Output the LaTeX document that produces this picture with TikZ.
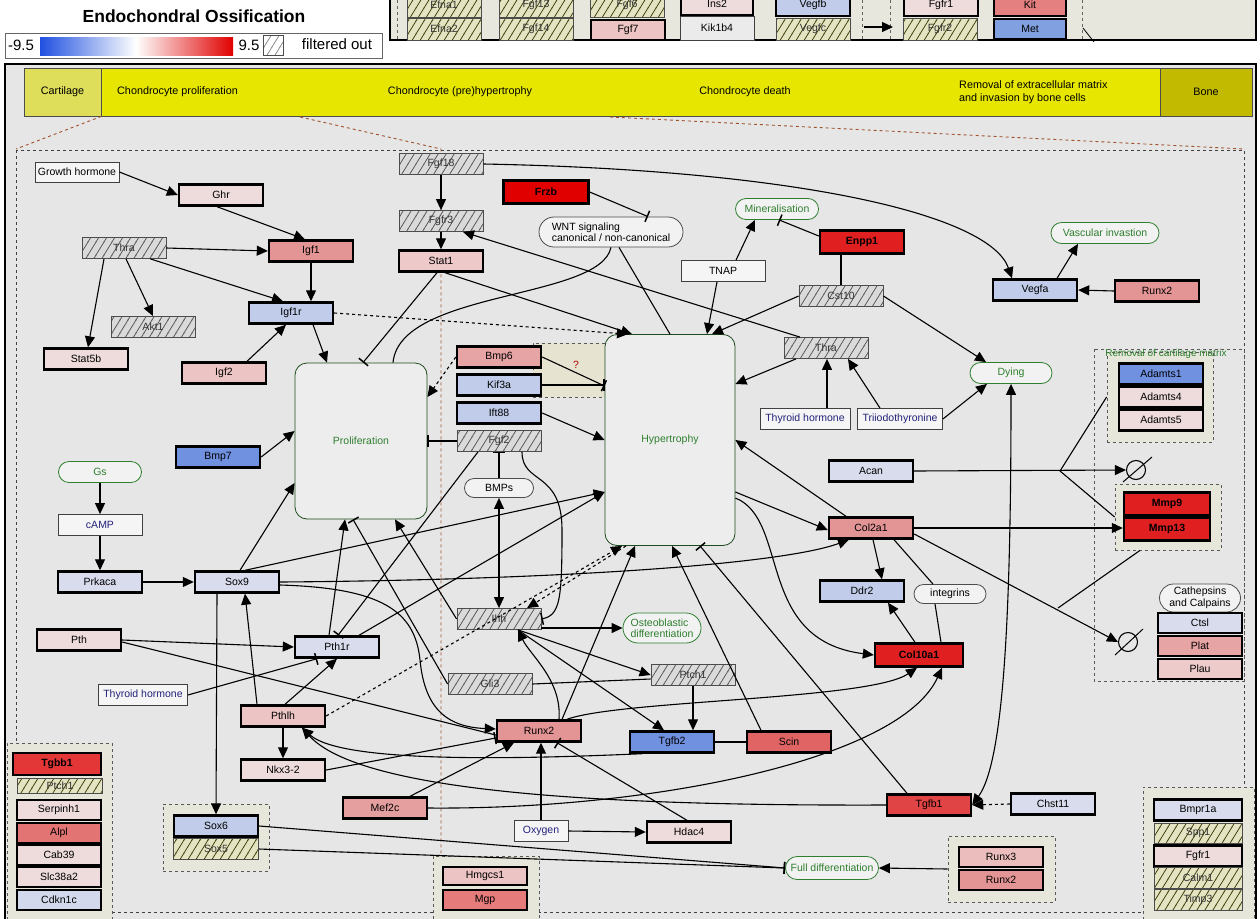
\documentclass[tikz,border=0pt]{standalone}
\usepackage{fontspec}
\setmainfont{Liberation Sans}
\usetikzlibrary{arrows.meta,patterns,shapes.misc,positioning}

\definecolor{panel}{HTML}{E6E6E6}
\definecolor{toppanel}{HTML}{E8E7DE}
\definecolor{band}{HTML}{E6E600}
\definecolor{cartfill}{HTML}{DEDE5A}
\definecolor{bonefill}{HTML}{C2BA00}
\definecolor{grpfill}{HTML}{E6E6DA}
\definecolor{qfill}{HTML}{E6E3D0}
\definecolor{hatchbg}{HTML}{DADADA}
\definecolor{yhatchbg}{HTML}{E4E4C2}
\definecolor{procgreen}{HTML}{2F7F2F}
\definecolor{metnavy}{HTML}{22227A}
\definecolor{cpale}{HTML}{EEDCDC}
\definecolor{cpink}{HTML}{EDC4C4}
\definecolor{cmed}{HTML}{E39494}
\definecolor{csalmon}{HTML}{E06464}
\definecolor{ctgf}{HTML}{E04444}
\definecolor{cred}{HTML}{E02020}
\definecolor{cbright}{HTML}{E00000}
\definecolor{cpblue}{HTML}{D8DCEC}
\definecolor{clblue}{HTML}{C0CCEA}
\definecolor{cblue}{HTML}{7090E0}
\definecolor{brownd}{HTML}{A0522D}

\pgfdeclarepatternformonly{hatchp}{\pgfqpoint{-1pt}{-1pt}}{\pgfqpoint{9pt}{14pt}}{\pgfqpoint{8pt}{13pt}}{%
  \pgfsetlinewidth{0.7pt}%
  \pgfpathmoveto{\pgfqpoint{-0.2pt}{-0.325pt}}%
  \pgfpathlineto{\pgfqpoint{8.2pt}{13.325pt}}%
  \pgfusepath{stroke}}

\begin{document}
\begin{tikzpicture}
		[x=1pt,y=-1pt,
		every node/.style={font=\fontsize{10.5}{11.5}\selectfont, inner sep=1pt},
		gene/.style={draw, line width=2.4pt, minimum width=84, minimum height=21},
		bold/.style={font=\fontsize{10.5}{11.5}\selectfont\bfseries},
		thin/.style={draw=black!75, line width=0.8pt, fill=black!4, minimum width=84, minimum height=21},
		hbox/.style={draw=black!70, line width=0.8pt, preaction={fill=hatchbg}, pattern=hatchp, pattern color=black!70, text=black!80, minimum width=84, minimum height=21},
		yhbox/.style={draw=black!70, line width=0.8pt, preaction={fill=yhatchbg}, pattern=hatchp, pattern color=black!60!olive, text=black!80, minimum width=84, minimum height=21},
		pill/.style={rounded rectangle, draw=black!70, line width=0.8pt, fill=black!5, minimum height=21, minimum width=70},
		procpill/.style={pill, draw=procgreen, text=procgreen},
		proc/.style={draw=procgreen!60!black, line width=0.8pt, rounded corners=12pt, fill=black!7, text=procgreen},
		grp/.style={draw=black!65, dashed, line width=0.8pt, fill=grpfill, inner sep=0pt},
		emptyset/.style={circle, draw, line width=1.1pt, minimum size=19},
		bandtext/.style={font=\fontsize{10.8}{12.5}\selectfont},
		act/.style={line width=1.1pt, -{Triangle[length=11pt,width=10pt]}},
		inh/.style={line width=1.1pt, -{Bar[width=12pt,line width=1.5pt]}},
		bi/.style={line width=1.1pt, {Triangle[length=11pt,width=10pt]}-{Triangle[length=11pt,width=10pt]}},
		link/.style={line width=1.1pt}]
		
		\useasboundingbox (0,0) rectangle (1260,918);
		\clip (0,0) rectangle (1260,918);
		\fill[white] (0,0) rectangle (1260,918);
		
		% title and legend
		\node[font=\fontsize{17.5}{19}\selectfont\bfseries] (title) at (194,16) {Endochondral Ossification};
		\node[draw=black!60, line width=0.8pt, fill=white, minimum width=377, minimum height=25] (legend) at (193.5,45.5) {};
		\node[font=\fontsize{15}{16}\selectfont] (lmin) at (21,45) {-9.5};
		\shade[left color={rgb,255:red,32;green,80;blue,224}, right color=white] (40,37) rectangle (136,55);
		\shade[left color=white, right color=cbright] (136,37) rectangle (233,55);
		\node[font=\fontsize{15}{16}\selectfont] (lmax) at (249,45) {9.5};
		\node[hbox, minimum width=20, minimum height=20, preaction={fill=white}, pattern color=black!50] (lhatch) at (273,45) {};
		\node[font=\fontsize{15}{16}\selectfont] (lfilt) at (337,44) {filtered out};
		
		% top panel (cut off)
		\draw[line width=2pt, fill=toppanel] (390,-10) rectangle (1256,40);
		\foreach \xx in {397,862,890,1082} \draw[dashed, black!60] (\xx,0) -- (\xx,40);
		\node[yhbox, minimum width=74, minimum height=24] (efna1) at (444,5) {Efna1};
		\node[yhbox, minimum width=74, minimum height=22] (efna2) at (444,29) {Efna2};
		\node[yhbox, minimum width=74, minimum height=24] (fgf13) at (536,5) {Fgf13};
		\node[yhbox, minimum width=74, minimum height=22] (fgf14) at (536,29) {Fgf14};
		\node[yhbox, minimum width=74, minimum height=24] (fgf6) at (627,5) {Fgf6};
		\node[gene, fill=cpink, minimum width=74, minimum height=20] (fgf7) at (628,30) {Fgf7};
		\node[gene, fill=cpale, minimum width=72, minimum height=22] (ins2) at (717,4) {Ins2};
		\node[thin, fill=black!8, minimum width=74, minimum height=24] (kik1b4) at (717,28) {Kik1b4};
		\node[gene, fill=clblue, minimum width=74, minimum height=22] (vegfb) at (813,5) {Vegfb};
		\node[yhbox, minimum width=74, minimum height=22] (vegfc) at (813,29) {Vegfc};
		\node[gene, fill=cpale, minimum width=74, minimum height=22] (fgfr1a) at (941,5) {Fgfr1};
		\node[yhbox, minimum width=74, minimum height=22] (fgfr2) at (940,29) {Fgfr2};
		\node[gene, fill={rgb,255:red,228;green,128;blue,128}, minimum width=72, minimum height=22] (kit) at (1030,5) {Kit};
		\node[gene, fill={rgb,255:red,128;green,160;blue,224}, minimum width=72, minimum height=20] (met) at (1030,29) {Met};
		\coordinate (ta) at (864,27);
		\coordinate (tb) at (893,27);
		\draw[act] (ta) -- (tb);
		\coordinate (tc) at (1083,28);
		\coordinate (td) at (1094,42);
		\draw[line width=0.8pt] (tc) -- (td);
		
		% main panel and stage band
		\draw[line width=2pt, fill=panel] (5,64) rectangle (1256,930);
		\draw[draw=black!70, line width=0.8pt, fill=band] (24,68) rectangle (1252,116);
		\node[draw=black!70, line width=0.8pt, fill=cartfill, minimum width=77, minimum height=48, bandtext] (cart) at (62.5,92) {Cartilage};
		\node[draw=black!70, line width=0.8pt, fill=bonefill, minimum width=92, minimum height=48, bandtext] (bone) at (1206,92) {Bone};
		\node[anchor=west, bandtext] (sprol) at (116,92) {Chondrocyte proliferation};
		\node[bandtext] (shyp) at (460,92) {Chondrocyte (pre)hypertrophy};
		\node[bandtext] (sdeath) at (745,92) {Chondrocyte death};
		\node[anchor=west, align=left, bandtext] (sremov) at (958,92) {Removal of extracellular matrix\\and invasion by bone cells};
		
		\draw[brownd, dashed, line width=0.9pt] (cart.south east) -- (16,149);
		\draw[brownd, dashed, line width=0.9pt] (300,117) -- (441,149) -- (441,918);
		\draw[brownd, dashed, line width=0.9pt] (610,117) -- (1244,149);
		\draw[black!75, dashed, line width=0.8pt] (16,150) rectangle (1244,912);
		
		% groups
		\node[grp, minimum width=105, minimum height=180] (tgbG) at (59.5,833) {};
		\node[grp, minimum width=106, minimum height=67] (soxG) at (216,837.5) {};
		\node[grp, minimum width=106, minimum height=70] (hmgG) at (486,891) {};
		\node[grp, minimum width=107, minimum height=66] (runxG) at (1001.5,869) {};
		\node[grp, minimum width=111, minimum height=140] (botG) at (1198.5,857) {};
		\draw[black!65, dashed, line width=0.8pt] (1094,349) rectangle (1244,681);
		\node[grp, minimum width=106, minimum height=90] (adamG) at (1160,397) {};
		\node[text=procgreen, font=\fontsize{10}{10}\selectfont] (remlab) at (1166,354) {Removal of cartilage matrix};
		\node[grp, minimum width=106, minimum height=66] (mmpG) at (1168,517) {};
		\node[grp, fill=qfill, minimum width=72, minimum height=54] (qbox) at (569,370) {};
		
		% left part
		\node[thin, minimum height=20] (growth) at (77,172) {Growth hormone};
		\node[gene, fill=cpale] (ghr) at (221,195) {Ghr};
		\node[hbox] (thraA) at (124,248) {Thra};
		\node[gene, fill=cmed] (igf1) at (311,251) {Igf1};
		\node[hbox] (akt1) at (153,327) {Akt1};
		\node[gene, fill=clblue] (igf1r) at (291,313) {Igf1r};
		\node[gene, fill=cpale] (stat5b) at (86,359) {Stat5b};
		\node[gene, fill=cpink] (igf2) at (224,373) {Igf2};
		\node[proc, minimum width=132, minimum height=156] (prolif) at (361,441) {Proliferation};
		\node[gene, fill=cblue] (bmp7) at (218,457) {Bmp7};
		\node[procpill, minimum width=85] (gs) at (100,472) {Gs};
		\node[thin, text=metnavy] (camp) at (100,525) {cAMP};
		\node[gene, fill=cpblue] (prkaca) at (100,582) {Prkaca};
		\node[gene, fill=cpblue] (sox9) at (237,582) {Sox9};
		\node[gene, fill=cpale] (pth) at (79,640) {Pth};
		\node[gene, fill=cpblue] (pth1r) at (337,647) {Pth1r};
		\node[thin, text=metnavy, minimum width=89] (thyA) at (143,695) {Thyroid hormone};
		\node[gene, fill=cpink] (pthlh) at (283,716) {Pthlh};
		\node[gene, fill=cpale] (nkx32) at (283,770) {Nkx3-2};
		\node[gene, fill=cmed!90!white] (mef2c) at (385,808) {Mef2c};
		
		\node[gene, fill=cred!90!white, bold, minimum width=88, minimum height=22] (tgbb1) at (57,764) {Tgbb1};
		\node[yhbox, minimum width=85, minimum height=15] (ptch1b) at (60,786) {Ptch1};
		\node[gene, fill=cpale, minimum height=20] (serpinh1) at (59,810) {Serpinh1};
		\node[gene, fill=csalmon!90!white, minimum height=20] (alpl) at (59,833) {Alpl};
		\node[gene, fill=cpale, minimum height=20] (cab39) at (59,855) {Cab39};
		\node[gene, fill=cpale, minimum height=20] (slc38a2) at (59,877) {Slc38a2};
		\node[gene, fill=cpblue!80!clblue, minimum height=20] (cdkn1c) at (59,900) {Cdkn1c};
		
		\node[gene, fill=clblue] (sox6) at (216,826) {Sox6};
		\node[yhbox, minimum width=85, minimum height=21] (sox5) at (216,849) {Sox5};
		\node[gene, fill=cpink, minimum height=18] (hmgcs1) at (485,876) {Hmgcs1};
		\node[gene, fill=csalmon!85!white, minimum height=20] (mgp) at (485,900) {Mgp};
		
		% middle part
		\node[hbox] (fgf18) at (441,164) {Fgf18};
		\node[hbox] (fgfr3) at (441,221) {Fgfr3};
		\node[gene, fill=cpink!80!cpale] (stat1) at (441,261) {Stat1};
		\node[gene, fill=cbright, bold, minimum width=85, minimum height=23] (frzb) at (546,192) {Frzb};
		\node[pill, align=left, minimum width=146, minimum height=30] (wnt) at (611,232) {WNT signaling\\canonical / non-canonical};
		\node[procpill, minimum width=85] (minera) at (777,209) {Mineralisation};
		\node[gene, fill=cred, bold, minimum height=23] (enpp1) at (862,242) {Enpp1};
		\node[thin] (tnap) at (723,271) {TNAP};
		\node[hbox] (cst10) at (841,296) {Cst10};
		\node[procpill, minimum width=110] (vasc) at (1105,233) {Vascular invastion};
		\node[gene, fill=clblue] (vegfa) at (1035,290) {Vegfa};
		\node[gene, fill=cmed] (runx2R) at (1157,291) {Runx2};
		\node[gene, fill=cmed!85!white] (bmp6) at (499,357) {Bmp6};
		\node[gene, fill=clblue] (kif3a) at (499,385) {Kif3a};
		\node[gene, fill=clblue] (ift88) at (499,413) {Ift88};
		\node[hbox] (fgf2) at (499,441) {Fgf2};
		\node[pill, minimum width=71, minimum height=19] (bmps) at (499,488) {BMPs};
		\node[text=red!70!black] (qmark) at (576,365) {?};
		\node[proc, minimum width=130, minimum height=211] (hyper) at (670,440) {Hypertrophy};
		\node[hbox] (thraB) at (826,348) {Thra};
		\node[thin, text=metnavy, minimum width=90] (thyB) at (805,419) {Thyroid hormone};
		\node[thin, text=metnavy, minimum width=85] (triio) at (900,419) {Triiodothyronine};
		\node[procpill, minimum width=84] (dying) at (1011,373) {Dying};
		\node[hbox] (ihh) at (499,619) {Ihh};
		\node[procpill, align=left, minimum width=80, minimum height=30] (osteo) at (662,628) {Osteoblastic\\differentiation};
		\node[hbox] (gli3) at (490,684) {Gli3};
		\node[hbox] (ptch1) at (693,675) {Ptch1};
		\node[gene, fill=cmed] (runx2) at (539,731) {Runx2};
		\node[gene, fill=cblue] (tgfb2) at (672,742) {Tgfb2};
		\node[gene, fill=csalmon] (scin) at (789,742) {Scin};
		\node[thin, text=metnavy, minimum width=54] (oxygen) at (541,831) {Oxygen};
		\node[gene, fill=cpale] (hdac4) at (689,832) {Hdac4};
		
		% right part
		\node[gene, fill=cpblue] (acan) at (871,471) {Acan};
		\node[gene, fill=cmed] (col2a1) at (871,528) {Col2a1};
		\node[gene, fill=clblue] (ddr2) at (862,591) {Ddr2};
		\node[pill, minimum width=74, minimum height=19] (integ) at (950,594) {integrins};
		\node[gene, fill=cred, bold, minimum width=88, minimum height=23] (col10a1) at (919,655) {Col10a1};
		\node[gene, fill=ctgf] (tgfb1) at (929,805) {Tgfb1};
		\node[gene, fill=cpblue] (chst11) at (1053,804) {Chst11};
		\node[procpill, minimum width=95, minimum height=23] (fulldiff) at (832,868) {Full differentiation};
		\node[gene, fill=cpink!85!cmed, minimum height=20] (runx3) at (1001,857) {Runx3};
		\node[gene, fill=cmed, minimum height=20] (runx2b) at (1001,880) {Runx2};
		
		\node[gene, fill=cblue, minimum height=21] (adamts1) at (1161,374) {Adamts1};
		\node[gene, fill=cpale, minimum height=21] (adamts4) at (1161,397) {Adamts4};
		\node[gene, fill=cpale, minimum height=21] (adamts5) at (1161,420) {Adamts5};
		\node[gene, fill=cred, bold, minimum width=86, minimum height=23] (mmp9) at (1167,504) {Mmp9};
		\node[gene, fill=cred, bold, minimum width=86, minimum height=23] (mmp13) at (1167,529) {Mmp13};
		\node[pill, align=center, minimum width=83, minimum height=28] (cathep) at (1200,598) {Cathepsins\\and Calpains};
		\node[gene, fill=cpblue, minimum height=20] (ctsl) at (1200,623) {Ctsl};
		\node[gene, fill=cmed!85!white, minimum height=20] (plat) at (1200,646) {Plat};
		\node[gene, fill=cpink!70!cpale, minimum height=20] (plau) at (1200,669) {Plau};
		\node[emptyset] (empty1) at (1136,470) {};
		\node[emptyset] (empty2) at (1128,642) {};
		\draw[line width=1pt] ([shift={(-13,12)}]empty1.center) -- ([shift={(16,-13)}]empty1.center);
		\draw[line width=1pt] ([shift={(-13,13)}]empty2.center) -- ([shift={(15,-13)}]empty2.center);
		
		\node[gene, fill=cpblue, minimum width=88, minimum height=21] (bmpr1a) at (1198,810) {Bmpr1a};
		\node[yhbox, minimum width=88, minimum height=20] (spp1) at (1198,833) {Spp1};
		\node[gene, fill=cpale, minimum width=88, minimum height=21] (fgfr1) at (1198,856) {Fgfr1};
		\node[yhbox, minimum width=88, minimum height=21] (calm1) at (1198,878) {Calm1};
		\node[yhbox, minimum width=88, minimum height=21] (timp3) at (1198,900) {Timp3};
		
		% connectors, left
		\draw[act] (growth.east) -- (ghr.west);
		\draw[act] ([xshift=-4]ghr.south) -- ([xshift=-6]igf1.north);
		\draw[act] (thraA.east) -- (igf1.west);
		\draw[act] ([xshift=-16]thraA.south east) -- ([xshift=-8]igf1r.north);
		\draw[act] ([xshift=2]thraA.south) -- (akt1.north);
		\draw[act] ([xshift=-20]thraA.south) -- ([xshift=2]stat5b.north);
		\draw[act] (igf1.south) -- ([xshift=20]igf1r.north);
		\draw[act] ([xshift=23]igf2.north) -- ([xshift=-5]igf1r.south);
		\draw[act] ([xshift=22]igf1r.south) -- ([xshift=-34]prolif.north);
		\draw[act, dashed] (igf1r.east) -- ([xshift=-42]hyper.north);
		\draw[act] (bmp7.east) -- ([yshift=10]prolif.west);
		\draw[act] (gs.south) -- (camp.north);
		\draw[act] (camp.south) -- (prkaca.north);
		\draw[act] (prkaca.east) -- (sox9.west);
		\draw[act] ([xshift=3]sox9.north) -- ([yshift=-42]prolif.west);
		\draw[act] ([xshift=8]sox9.north) -- ([yshift=-52]hyper.west);
		\draw[act] (sox9.east) .. controls (550,580) and (780,565) .. ([xshift=-22]col2a1.south);
		\draw[act] ([yshift=-3]sox9.east) .. controls (380,588) and (415,610) .. (420,660) .. controls (425,712) and (450,727) .. ([yshift=2]runx2.west);
		\draw[act] ([xshift=-20]sox9.south) -- (sox6.north);
		\draw[act] (pth.east) -- (pth1r.west);
		\draw[link] ([yshift=-2]pth.east) -- ([yshift=-4]runx2.west);
		\draw[inh] (thyA.east) -- ([xshift=-20]pth1r.south);
		\draw[act] ([xshift=-8]pth1r.north) -- ([xshift=-16]prolif.south);
		\draw[act] ([xshift=22]pth1r.north) -- ([yshift=-52]hyper.west);
		\draw[act] ([xshift=-26]pthlh.north) -- ([xshift=8]sox9.south);
		\draw[act] ([xshift=2]pthlh.north) -- (pth1r.south);
		\draw[act] (pthlh.south) -- (nkx32.north);
		\draw[act, dashed] (pthlh.east) -- ([xshift=-48]hyper.south);
		\draw[inh] (nkx32.east) -- ([yshift=-7]runx2.west);
		\draw[act] ([xshift=25]mef2c.north) -- ([xshift=-25]runx2.south);
		\draw[act] (mef2c.east) .. controls (650,810) and (900,760) .. ([xshift=23]col10a1.south);
		\draw[inh] (sox6.east) -- (fulldiff.west);
		\draw[inh] (sox5.east) -- (fulldiff.west);
		
		% connectors, middle
		\draw[act] (fgf18.south) -- (fgfr3.north);
		\draw[act] (fgfr3.south) -- (stat1.north);
		\draw[act] (fgf18.east) .. controls (800,170) and (990,215) .. ([xshift=-23]vegfa.north);
		\draw[inh] ([xshift=-4]stat1.south) -- ([xshift=2]prolif.north);
		\draw[act] ([xshift=4]stat1.south) -- ([xshift=-38]hyper.north);
		\draw[link] (wnt.south) .. controls (600,300) and (400,290) .. ([xshift=32]prolif.north);
		\draw[link] ([xshift=8]wnt.south) -- (hyper.north);
		\draw[inh] (frzb.east) -- ([xshift=37]wnt.north);
		\draw[act] ([xshift=13]tnap.north) -- ([xshift=-22]minera.south);
		\draw[inh] ([yshift=6]enpp1.west) -- ([xshift=2]minera.south);
		\draw[link] (cst10.north) -- (cst10.north |- enpp1.south);
		\draw[act] ([xshift=-6]tnap.south) -- ([xshift=37]hyper.north);
		\draw[act] (cst10.west) -- ([xshift=42]hyper.north);
		\draw[act] (cst10.east) -- ([xshift=-25]dying.north);
		\draw[act] ([xshift=-26]thraB.north) -- ([xshift=22]fgfr3.south);
		\draw[act] ([xshift=-30]thraB.south) -- ([yshift=56]hyper.east);
		\draw[act] ([xshift=22]thyB.north) -- ([xshift=1]thraB.south);
		\draw[act] ([xshift=-20]triio.north) -- ([xshift=22]thraB.south);
		\draw[act] (triio.east) -- ([xshift=-24]dying.south);
		\draw[act] (runx2R.west) -- (vegfa.east);
		\draw[act] ([xshift=22]vegfa.north) -- ([xshift=-27]vasc.south);
		\draw[inh] (bmp6.east) -- ([yshift=54]hyper.west);
		\draw[inh] (kif3a.east) -- (kif3a.east -| hyper.west);
		\draw[act, dashed] (bmp6.west) -- ([yshift=44]prolif.east);
		\draw[act] (ift88.east) -- (hyper.west);
		\draw[inh] (fgf2.west) -- (fgf2.west -| prolif.east);
		\draw[inh] (bmps.north) -- (fgf2.south);
		\draw[bi] (bmps.south) -- (ihh.north);
		\draw[inh] ([xshift=23]fgf2.south) .. controls (522,485) and (562,470) .. (562,530) .. controls (562,600) and (560,615) .. (ihh.east);
		\draw[inh] ([xshift=-21]fgf2.south) -- ([xshift=1]pth1r.north);
		\draw[act] (ihh.west) -- ([xshift=34]prolif.south);
		\draw[inh] (gli3.west) -- ([xshift=-8]prolif.south);
		\draw[act] (osteo.west -| ihh.east) -- (osteo.west);
		\draw[act] ([xshift=19]ihh.south) -- (ptch1.west);
		\draw[act] ([xshift=19]ihh.south) -- ([xshift=-8]tgfb2.north);
		\draw[act] (ptch1.south) -- (ptch1.south |- tgfb2.north);
		\draw[link] (gli3.east) -- ([yshift=-4]ptch1.west);
		\draw[act, dashed] ([xshift=-44]hyper.south) -- ([xshift=28]ihh.north);
		\draw[act] ([xshift=20]runx2.north) .. controls (562,680) and (530,655) .. ([xshift=19]ihh.south);
		\draw[act] ([xshift=23]runx2.north) -- ([xshift=-35]hyper.south);
		\draw[act] ([xshift=28]runx2.north) .. controls (620,700) and (870,700) .. ([xshift=-2]col10a1.south);
		\draw[act] (oxygen.north) -- (oxygen.north |- runx2.south);
		\draw[act] (oxygen.east) -- (hdac4.west);
		\draw[inh] ([xshift=-2]hdac4.north) -- ([xshift=18]runx2.south);
		\draw[act] ([xshift=-30]tgfb2.south) .. controls (500,760) and (340,762) .. ([xshift=19]pthlh.south);
		\draw[act] (tgfb1.west) .. controls (600,806) and (360,792) .. ([xshift=19]pthlh.south);
		\draw[link] (tgfb2.east) -- (scin.west);
		\draw[act] ([xshift=-28]scin.north) -- ([xshift=2]hyper.south);
		\draw[inh] ([xshift=-22]tgfb1.north) -- ([xshift=30]hyper.south);
		
		% connectors, right
		\draw[act] ([xshift=-25]col2a1.north) -- (hyper.east);
		\draw[act] ([yshift=-52]hyper.east) -- ([yshift=-2]col2a1.west);
		\draw[act] ([yshift=-58]hyper.east) .. controls (790,520) and (755,640) .. (col10a1.west);
		\draw[act] ([xshift=2]col2a1.south) -- ([xshift=20]ddr2.north);
		\draw[act] ([xshift=-4]col10a1.north) -- ([xshift=26]ddr2.south);
		\draw[link] ([xshift=23]col2a1.south) -- ([xshift=-17]integ.north);
		\draw[link] ([xshift=-15]integ.south) -- ([xshift=22]col10a1.north);
		\draw[bi] (dying.south) .. controls (1011,600) and (1005,760) .. (tgfb1.east);
		\draw[act, dashed] (chst11.west) -- (tgfb1.east);
		\draw[act] (runxG.west) -- (fulldiff.east);
		\draw[act] (col2a1.east) -- (col2a1.east -| mmp13.west);
		\draw[act] (acan.east) -- (empty1.west);
		\coordinate (jA) at (1060,471);
		\draw[link] (adamG.west) -- (jA) -- (mmpG.west);
		\draw[act] ([yshift=-6]col2a1.east) -- (empty2.west);
		\coordinate (jB) at (1058,608);
		\draw[link] (jB) -- ([xshift=-28]mmpG.south);
		
		\end{tikzpicture}
\end{document}
